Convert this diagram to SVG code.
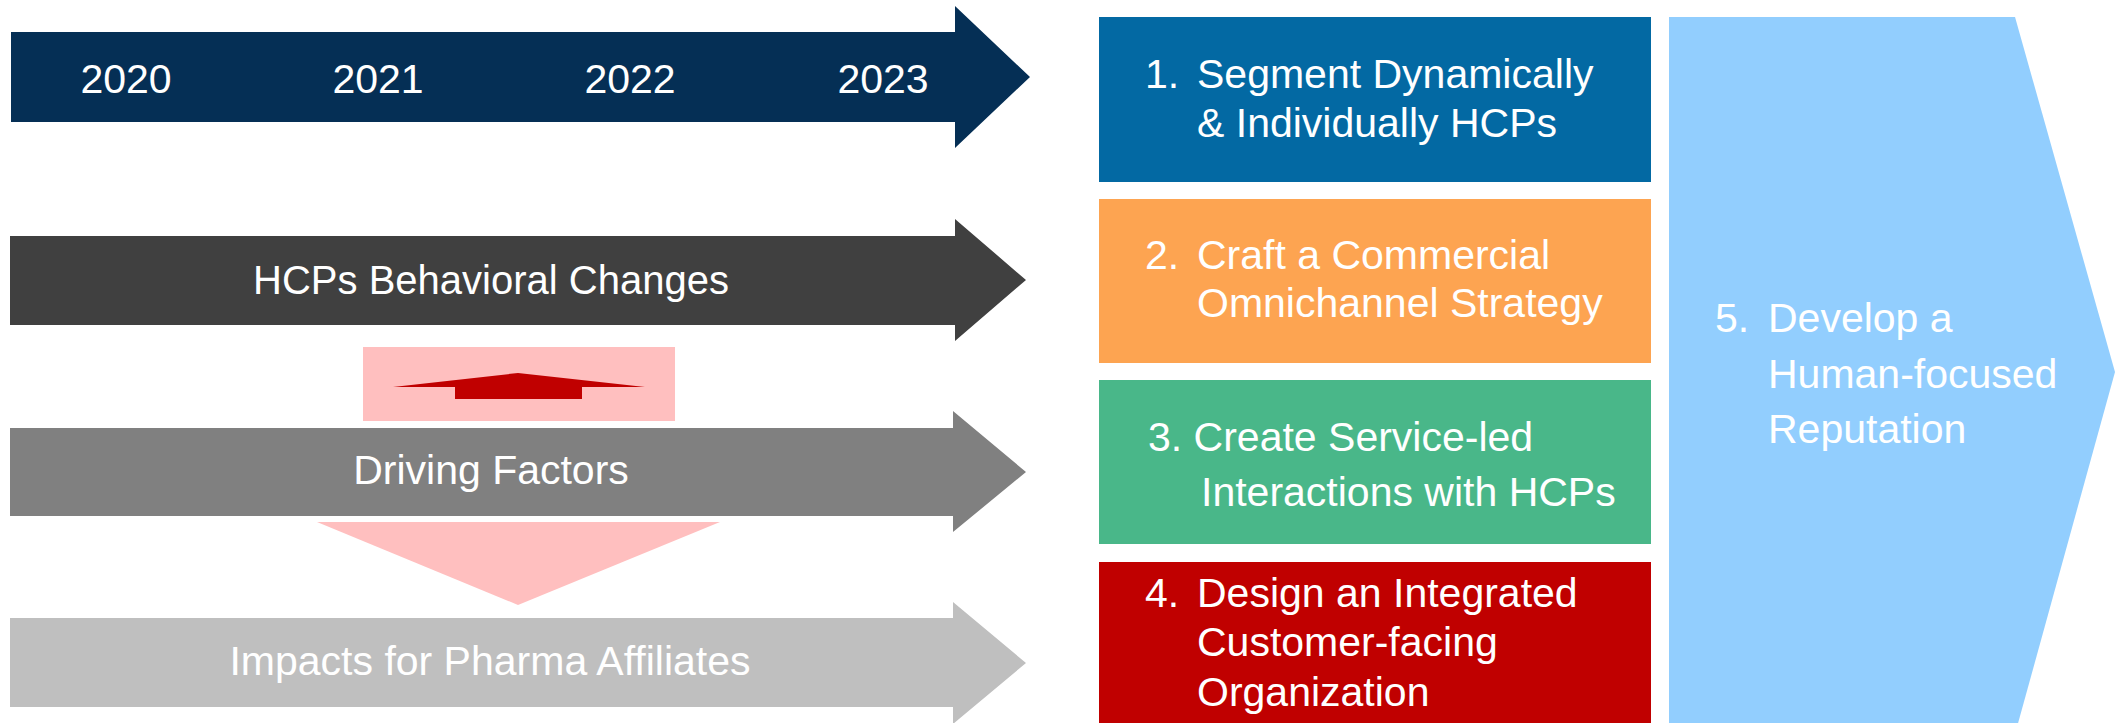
<svg xmlns="http://www.w3.org/2000/svg" width="2120" height="723" viewBox="0 0 2120 723">
<style>
.t{font-family:"Liberation Sans",Arial,sans-serif;font-size:41px;fill:#ffffff}
.c{text-anchor:middle}
</style>
<rect width="2120" height="723" fill="#ffffff"/>
<g id="timeline">
<polygon points="11,32 955,32 955,6 1030,77 955,148 955,122 11,122" fill="#052F55"/>
<text class="t c" x="126" y="93">2020</text>
<text class="t c" x="378" y="93">2021</text>
<text class="t c" x="630" y="93">2022</text>
<text class="t c" x="883" y="93">2023</text>
</g>
<g id="behavioral-changes">
<polygon points="10,236 955,236 955,219 1026,280 955,341 955,325 10,325" fill="#404040"/>
<text class="t c" x="491" y="294" style="font-size:40px">HCPs Behavioral Changes</text>
</g>
<g id="driving-factors">
<polygon points="10,428 953,428 953,411 1026,472 953,532 953,516 10,516" fill="#808080"/>
<text class="t c" x="491" y="484">Driving Factors</text>
</g>
<g id="impacts">
<polygon points="10,618 953,618 953,602 1026,663 953,724 953,707 10,707" fill="#BFBFBF"/>
<text class="t c" x="490" y="675">Impacts for Pharma Affiliates</text>
</g>
<g id="connectors">
<rect x="363" y="347" width="312" height="74" fill="#FFBFBF"/>
<polygon points="393,387 518,373 645,387 582,387 582,399 455,399 455,387" fill="#C00000"/>
<polygon points="317,522 720,522 518,605" fill="#FFBFBF"/>
</g>
<g id="step1">
<rect x="1099" y="17" width="552" height="165" fill="#0369A3"/>
<text class="t" x="1145" y="88">1.</text>
<text class="t" x="1197" y="88">Segment Dynamically</text>
<text class="t" x="1197" y="137">&amp; Individually HCPs</text>
</g>
<g id="step2">
<rect x="1099" y="199" width="552" height="164" fill="#FDA451"/>
<text class="t" x="1145" y="269">2.</text>
<text class="t" x="1197" y="269">Craft a Commercial</text>
<text class="t" x="1197" y="317">Omnichannel Strategy</text>
</g>
<g id="step3">
<rect x="1099" y="380" width="552" height="164" fill="#49B789"/>
<text class="t" x="1148" y="451">3. Create Service-led</text>
<text class="t" x="1201" y="506">Interactions with HCPs</text>
</g>
<g id="step4">
<rect x="1099" y="562" width="552" height="161" fill="#C00000"/>
<text class="t" x="1145" y="607">4.</text>
<text class="t" x="1197" y="607">Design an Integrated</text>
<text class="t" x="1197" y="656">Customer-facing</text>
<text class="t" x="1197" y="706">Organization</text>
</g>
<g id="step5">
<polygon points="1669,17 2015,17 2115,372 2017,727 1669,727" fill="#92CEFE"/>
<text class="t" x="1715" y="332">5.</text>
<text class="t" x="1768" y="332">Develop a</text>
<text class="t" x="1768" y="388">Human-focused</text>
<text class="t" x="1768" y="443">Reputation</text>
</g>
</svg>
